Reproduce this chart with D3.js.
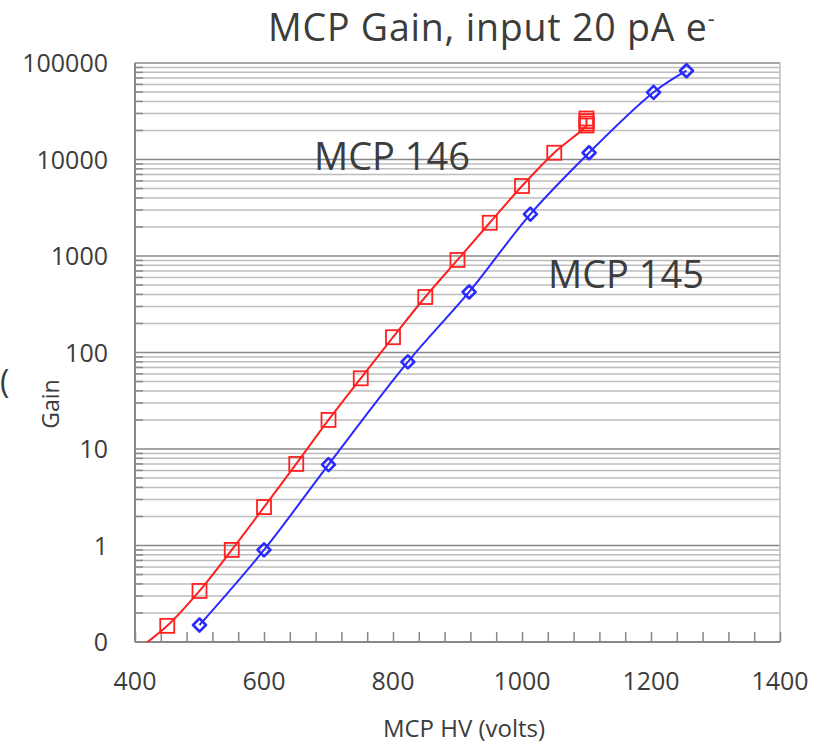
<!DOCTYPE html>
<html>
<head>
<meta charset="utf-8">
<script src="https://cdn.jsdelivr.net/npm/d3@7"></script>
<style>
  html, body { margin: 0; padding: 0; background: #fff; }
  svg { display: block; }
  text { font-family: "Open Sans", sans-serif; fill: #3c3c3c; }
</style>
</head>
<body>
<svg id="chart" width="823" height="745"></svg>
<script>
// ---- data ----
const mcp146Volts = [400, 450, 500, 550, 600, 650, 700, 750, 800, 850, 900, 950, 1000, 1050, 1100, 1100, 1100, 1100];
const mcp146Gain  = [0.08, 0.147, 0.338, 0.9, 2.5, 7.0, 20, 54, 144, 376, 910, 2210, 5310, 11750, 22500, 23600, 25000, 26600];
const mcp145Volts = [500, 600, 700, 823, 918, 1013, 1104, 1204, 1255];
const mcp145Gain  = [0.15, 0.9, 6.9, 80, 424, 2720, 11750, 49700, 83200];
const yTickValues = [0.1, 1, 10, 100, 1000, 10000, 100000];
const yTickLabels = ["0", "1", "10", "100", "1000", "10000", "100000"];
const xTickValues = [400, 600, 800, 1000, 1200, 1400];
const xTickLabels = ["400", "600", "800", "1000", "1200", "1400"];
const seriesNames = ["MCP 146", "MCP 145"];

// ---- layout ----
const L = 135, R = 780, T = 63, B = 642;
const svg = d3.select("#chart");

const x = d3.scaleLinear().domain([400, 1400]).range([L, R]);
const y = d3.scaleLog().domain([0.1, 100000]).range([B, T]);

svg.append("defs").append("clipPath").attr("id", "plotclip")
  .append("rect").attr("x", L).attr("y", T - 8).attr("width", R - L).attr("height", B - T + 8);

// minor gridlines (2..9 per decade)
const minorVals = [];
for (let e = -1; e < 5; e++) for (let m = 2; m <= 9; m++) minorVals.push(m * Math.pow(10, e));

const grid = svg.append("g");
grid.selectAll("line.minor").data(minorVals).join("line")
  .attr("x1", L).attr("x2", R)
  .attr("y1", d => y(d)).attr("y2", d => y(d))
  .attr("stroke", "#bdbdbd").attr("stroke-width", 1.5);
// minor ticks on the left axis
grid.selectAll("line.mtick").data(minorVals).join("line")
  .attr("x1", L).attr("x2", L + 8)
  .attr("y1", d => y(d)).attr("y2", d => y(d))
  .attr("stroke", "#888").attr("stroke-width", 1.5);
// major gridlines
grid.selectAll("line.major").data(yTickValues).join("line")
  .attr("x1", L).attr("x2", R)
  .attr("y1", d => y(d)).attr("y2", d => y(d))
  .attr("stroke", "#888").attr("stroke-width", 1.5);
// right border
grid.append("line").attr("x1", R).attr("x2", R).attr("y1", T).attr("y2", B)
  .attr("stroke", "#bdbdbd").attr("stroke-width", 1.5);

// x axis with ticks every 40 V pointing inward
const xAxis = d3.axisTop(x).tickValues(d3.range(400, 1401, 40)).tickSize(10).tickFormat("");
const gx = svg.append("g").attr("transform", `translate(0,${B})`).call(xAxis);
gx.selectAll("line").attr("stroke", "#888").attr("stroke-width", 1.5);
gx.select(".domain").attr("stroke", "#888").attr("stroke-width", 2).attr("d", `M${L},0H${R}`);

// left axis line
svg.append("line").attr("x1", L).attr("x2", L).attr("y1", T).attr("y2", B)
  .attr("stroke", "#888").attr("stroke-width", 2);

// tick labels
svg.append("g").selectAll("text").data(yTickValues).join("text")
  .attr("x", 108).attr("y", d => y(d)).attr("dy", "0.36em")
  .attr("text-anchor", "end").attr("font-size", 25)
  .text((d, i) => yTickLabels[i]);
svg.append("g").selectAll("text").data(xTickValues).join("text")
  .attr("x", d => x(d)).attr("y", 690)
  .attr("text-anchor", "middle").attr("font-size", 25)
  .text((d, i) => xTickLabels[i]);

// series
const line = d3.line().x(d => x(d[0])).y(d => y(d[1])).curve(d3.curveCatmullRom.alpha(0.5));
const s146 = mcp146Volts.map((v, i) => [v, mcp146Gain[i]]);
const s145 = mcp145Volts.map((v, i) => [v, mcp145Gain[i]]);

const plot = svg.append("g").attr("clip-path", "url(#plotclip)");
plot.append("path").datum(s146).attr("d", line)
  .attr("fill", "none").attr("stroke", "#ff2020").attr("stroke-width", 2);
plot.append("path").datum(s145).attr("d", line)
  .attr("fill", "none").attr("stroke", "#2a2aff").attr("stroke-width", 2);

plot.selectAll("rect.m146").data(s146).join("rect")
  .attr("x", d => x(d[0]) - 7).attr("y", d => y(d[1]) - 7)
  .attr("width", 14).attr("height", 14)
  .attr("fill", "none").attr("stroke", "#ff2020").attr("stroke-width", 1.8);
plot.selectAll("path.m145").data(s145).join("path")
  .attr("transform", d => `translate(${x(d[0])},${y(d[1])})`)
  .attr("d", "M0,-6.5L6.5,0L0,6.5L-6.5,0Z")
  .attr("fill", "none").attr("stroke", "#2a2aff").attr("stroke-width", 2.6)
  .attr("stroke-linejoin", "round");

// series labels
svg.append("text").attr("x", 392).attr("y", 170).attr("text-anchor", "middle")
  .attr("font-size", 38).text(seriesNames[0]);
svg.append("text").attr("x", 626).attr("y", 288).attr("text-anchor", "middle")
  .attr("font-size", 38).text(seriesNames[1]);

// title
const title = svg.append("text").attr("x", 268).attr("y", 41).attr("font-size", 37.5)
  .attr("letter-spacing", 0.8);
title.append("tspan").text("MCP Gain, input 20 pA e");
title.append("tspan").attr("dy", -15).attr("font-size", 22).text("-");

// axis titles
svg.append("text").attr("x", 464).attr("y", 737).attr("text-anchor", "middle")
  .attr("font-size", 24).text("MCP HV (volts)");
svg.append("text").attr("transform", "translate(59,404) rotate(-90)")
  .attr("text-anchor", "middle").attr("font-size", 23).text("Gain");
svg.append("text").attr("x", 0).attr("y", 393).attr("font-size", 32).text("(");
</script>
</body>
</html>
